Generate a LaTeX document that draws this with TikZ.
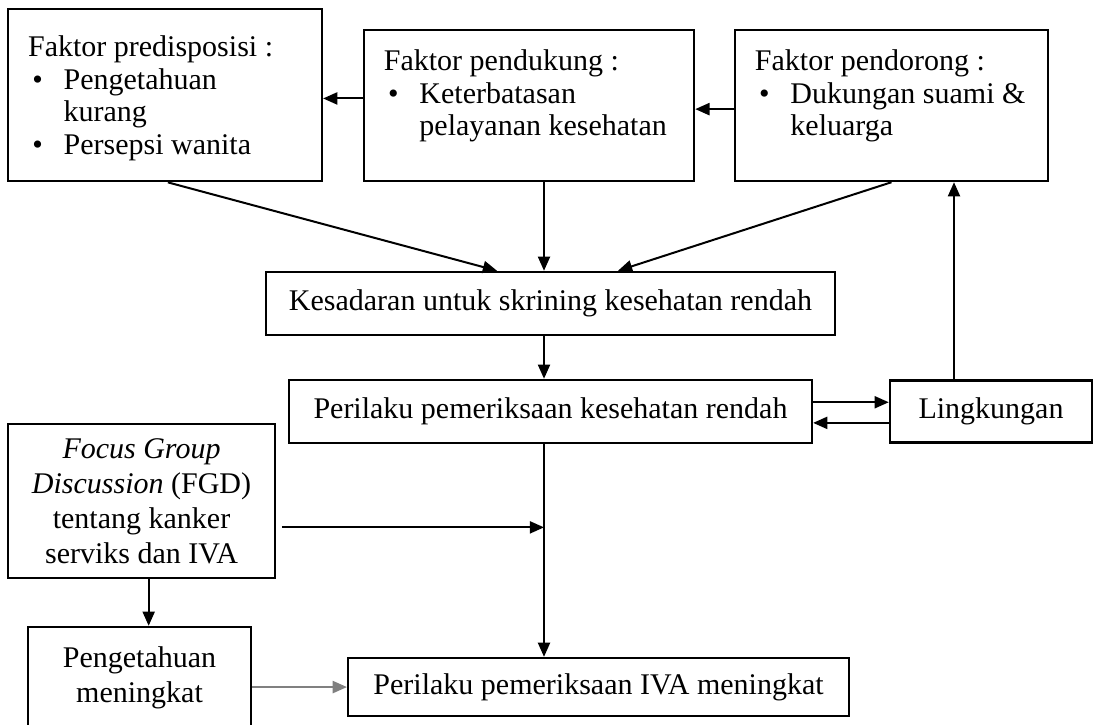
\documentclass[tikz,border=0pt]{standalone}
\usepackage{fontspec}
\setmainfont{Liberation Serif}
\usetikzlibrary{arrows.meta, positioning, calc}

\begin{document}
\begin{tikzpicture}[>={Triangle[length=0.2cm,width=0.17cm]}, kotak/.style={draw, line width=1pt, align=center, inner sep=0pt, font=\fontsize{12}{13}\selectfont}, faktor/.style={kotak, align=left, inner xsep=0.28cm, inner ysep=0.25cm}, panah/.style={->, line width=0.8pt}]

		\clip (0,0) rectangle (15.394,-10.192);

		\node [faktor] (PRE) at (2.320,-1.336) [inner ysep=0.35cm]
			{\parbox[c][1.72cm][t]{3.85cm}{\begin{tabular}[t]{@{\hspace{0.06cm}}p{0.44cm}@{}l@{}}
				\multicolumn{2}{@{}l@{}}{Faktor predisposisi :}\\
				\textbullet & Pengetahuan\\
				& kurang\\
				\textbullet & Persepsi wanita
			\end{tabular}}};

		\node [faktor] (DUKUNG)
			[node distance=5.117cm, right of=PRE, yshift=-0.148cm]
			{\parbox[c][1.62cm][t]{4.08cm}{\begin{tabular}[t]{@{\hspace{0.06cm}}p{0.44cm}@{}l@{}}
				\multicolumn{2}{@{}l@{}}{Faktor pendukung :}\\
				\textbullet & Keterbatasan\\
				& pelayanan kesehatan
			\end{tabular}}};

		\node [faktor] (DORONG)
			[node distance=5.096cm, right of=DUKUNG]
			{\parbox[c][1.62cm][t]{3.84cm}{\begin{tabular}[t]{@{\hspace{0.06cm}}p{0.44cm}@{}l@{}}
				\multicolumn{2}{@{}l@{}}{Faktor pendorong :}\\
				\textbullet & Dukungan suami \&\\
				& keluarga
			\end{tabular}}};

		\node [kotak] (KES)
			[node distance=2.783cm, below of=DUKUNG, xshift=0.302cm, minimum width=8.00cm, minimum height=0.886cm]
			{Kesadaran untuk skrining kesehatan rendah};

		\node [kotak] (PERI)
			[node distance=1.518cm, below of=KES, minimum width=7.35cm, minimum height=0.886cm]
			{Perilaku pemeriksaan kesehatan rendah};

		\node [kotak] (LING)
			[node distance=6.193cm, right of=PERI, minimum width=2.84cm, minimum height=0.87cm]
			{Lingkungan};

		\node [kotak] (FGD)
			[node distance=5.708cm, below of=PRE, xshift=-0.330cm, minimum width=3.75cm, minimum height=2.165cm, font=\fontsize{12}{14}\selectfont]
			{\textit{Focus Group}\\\textit{Discussion} (FGD)\\tentang kanker\\serviks dan IVA};

		\node [kotak] (PENG)
			[node distance=2.481cm, below of=FGD, xshift=-0.028cm, minimum width=3.135cm, minimum height=1.42cm, font=\fontsize{12}{14}\selectfont]
			{Pengetahuan\\meningkat};

		\node [kotak] (IVA)
			[node distance=6.453cm, right of=PENG, yshift=-0.134cm, minimum width=7.04cm, minimum height=0.815cm]
			{Perilaku pemeriksaan IVA meningkat};

		\coordinate (SPINE) at (7.648,0);

		\draw[panah] ([yshift=0.1cm]DUKUNG.west) -- ([yshift=0.1cm]DUKUNG.west -| PRE.east);
		\draw[panah] ([yshift=-0.05cm]DORONG.west) -- ([yshift=-0.05cm]DORONG.west -| DUKUNG.east);

		\draw[panah] ([xshift=0.04cm]PRE.south) -- ([xshift=-0.66cm]KES.north -| SPINE);
		\draw[panah] (DUKUNG.south -| SPINE) -- (KES.north -| SPINE);
		\draw[panah] (DORONG.south) -- ([xshift=1.04cm]KES.north -| SPINE);

		\draw[panah] (KES.south -| SPINE) -- (PERI.north -| SPINE);
		\draw[panah] ([yshift=0.13cm]PERI.east) -- ([yshift=0.13cm]PERI.east -| LING.west);
		\draw[panah] ([yshift=-0.16cm]LING.west) -- ([yshift=-0.16cm]LING.west -| PERI.east);
		\draw[panah] ([xshift=-0.52cm]LING.north) -- ([xshift=-0.52cm]LING.north |- DORONG.south);

		\draw[panah] (PERI.south -| SPINE) -- (IVA.north -| SPINE);
		\draw[panah] ([xshift=0.08cm,yshift=-0.37cm]FGD.east) -- ([yshift=-0.37cm]FGD.east -| SPINE);
		\draw[panah] ([xshift=0.1cm]FGD.south) -- ([xshift=0.1cm]FGD.south |- PENG.north);
		\draw[panah, gray] (IVA.west -| PENG.east) -- (IVA.west);

\end{tikzpicture}
\end{document}
